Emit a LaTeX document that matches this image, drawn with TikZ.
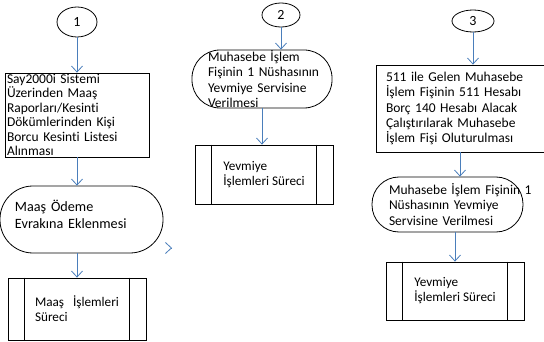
\documentclass[tikz,border=0pt]{standalone}
\usepackage{fontspec}
\setmainfont{Carlito}[Ligatures=NoCommon]
\usetikzlibrary{shapes.geometric,arrows.meta,calc}
\definecolor{arrowblue}{RGB}{74,126,187}
\tikzset{
	stepnum/.style={draw,ellipse,inner sep=0pt,line width=0.8pt,font=\fontsize{14}{16}\selectfont},
	taskbox/.style={draw,rectangle,inner ysep=0pt,align=left,line width=0.8pt,font=\fontsize{13.5}{15.4}\selectfont},
	roundbox/.style={draw,rectangle,inner ysep=0pt,align=left,line width=0.8pt,font=\fontsize{13.5}{15.3}\selectfont},
	procbox/.style={draw,rectangle,align=left,line width=0.8pt,font=\fontsize{13.2}{15}\selectfont},
	flow/.style={draw=arrowblue,line width=0.8pt,-{Straight Barb[length=6pt,width=11pt]}}
}
\newcommand{\sidebars}[1]{
	\draw[line width=0.8pt] ($(#1.north west)+(17,0)$) -- ($(#1.south west)+(17,0)$);
	\draw[line width=0.8pt] ($(#1.north east)+(-17,0)$) -- ($(#1.south east)+(-17,0)$);
}
\begin{document}
\begin{tikzpicture}[x=1pt,y=-1pt]
	\useasboundingbox (0,0) rectangle (544,342);
	% first column
	\node[stepnum,minimum width=40,minimum height=30] (num1) at (77,22) {1};
	\node[taskbox,minimum width=144,minimum height=84,text width=140,inner xsep=2,font=\fontsize{13.5}{14.4}\selectfont] (list1) at (77,115) {Say2000i Sistemi\\Üzerinden Maaş\\Raporları/Kesinti\\Dökümlerinden Kişi\\Borcu Kesinti Listesi\\Alınması};
	\node[roundbox,minimum width=163,minimum height=67,rounded corners=33,text width=133,inner xsep=15,font=\fontsize{14.2}{17.5}\selectfont] (doc1) at (81.5,219.5) {Maaş Ödeme\\Evrakına Eklenmesi\\[-7pt]\mbox{}};
	\node[procbox,minimum width=138,minimum height=62] (proc1) at (77,309) {Maaş\ \ \ İşlemleri\\Süreci};
	\sidebars{proc1}
	\coordinate (stray) at (171.5,248);
	\coordinate (straytip) at (172,248);

	% second column
	\node[stepnum,minimum width=38,minimum height=24] (num2) at (281,15) {2};
	\node[roundbox,minimum width=140,minimum height=58,rounded corners=28,text width=108,inner xsep=16] (doc2) at (262,79) {Muhasebe~İşlem\\Fişinin~1~Nüshasının\\Yevmiye~Servisine\\Verilmesi};
	\node[procbox,minimum width=138,minimum height=59] (proc2) at (264,174.5) {Yevmiye\\İşlemleri Süreci};
	\sidebars{proc2}

	% third column
	\node[stepnum,minimum width=42,minimum height=22] (num3) at (473,21) {3};
	\node[taskbox,minimum width=168,minimum height=87,text width=148,inner xsep=10] (list3) at (460,108.5) {511~ile~Gelen~Muhasebe\\İşlem~Fişinin~511~Hesabı\\Borç~140~Hesabı~Alacak\\Çalıştırılarak~Muhasebe\\İşlem~Fişi~Oluturulması};
	\node[roundbox,minimum width=151,minimum height=55,rounded corners=27,text width=117,inner xsep=17] (doc3) at (447.5,204.5) {Muhasebe~İşlem~Fişinin~1\\Nüshasının~Yevmiye\\Servisine~Verilmesi};
	\node[procbox,minimum width=138,minimum height=58] (proc3) at (455,291) {Yevmiye\\İşlemleri Süreci};
	\sidebars{proc3}

	\draw[flow] (num1) -- (list1);
	\draw[flow] (list1.south) -- (list1.south |- doc1.north);
	\draw[flow] (proc1.north |- doc1.south) -- (proc1.north);
	\draw[flow] (stray) -- (straytip);
	\draw[flow] (num2.south) -- (num2.south |- doc2.north);
	\draw[flow] (doc2.south) -- (doc2.south |- proc2.north);
	\draw[flow] (num3.south) -- (num3.south |- list3.north);
	\draw[flow] (list3.south) -- (list3.south |- doc3.north);
	\draw[flow] (proc3.north |- doc3.south) -- (proc3.north);
\end{tikzpicture}
\end{document}
